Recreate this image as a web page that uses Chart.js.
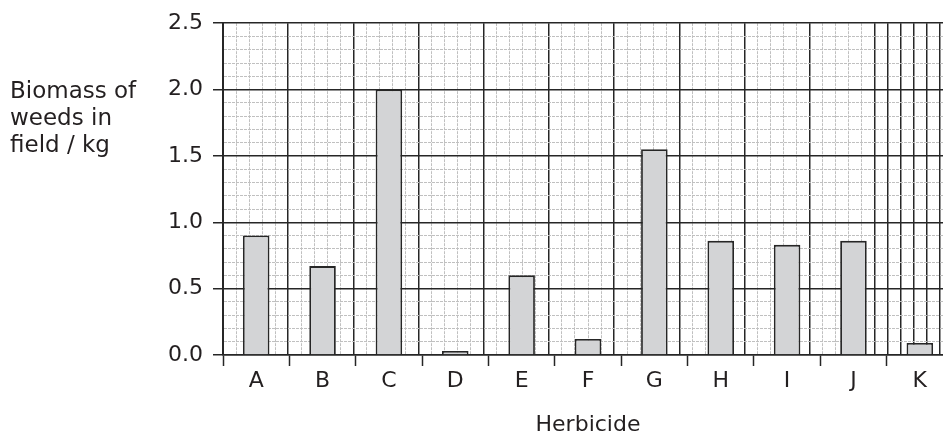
<!DOCTYPE html>
<html>
<head>
<meta charset="utf-8">
<script src="https://cdn.jsdelivr.net/npm/chart.js@4"></script>
<style>
  html, body { margin: 0; padding: 0; background: #fff; overflow: hidden; width: 943px; height: 440px; }
  #wrap { position: relative; width: 960px; height: 440px; }
</style>
</head>
<body>
<div id="wrap"><canvas id="c" width="960" height="440"></canvas></div>
<script>
// ---- data ----
const categories = ['A', 'B', 'C', 'D', 'E', 'F', 'G', 'H', 'I', 'J', 'K'];
const biomass = [0.9, 0.67, 2.0, 0.03, 0.6, 0.12, 1.55, 0.86, 0.83, 0.86, 0.09];
const yMin = 0;
const yMax = 2.5;
const yMajorStep = 0.5;
const yMinorStep = 0.1;
const minorPerCategory = 5;
const yTitleLines = ['Biomass of', 'weeds in', 'field / kg'];
const xTitle = 'Herbicide';

// ---- styles ----
const DARK = '#262626';
const MINOR = '#c0c0c0';
const TEXT = '#231f20';
const FONT = '"DejaVu Sans", sans-serif';

const isMajorY = v => Math.abs(Math.round(v / yMinorStep) % Math.round(yMajorStep / yMinorStep)) === 0;
const nMinorX = categories.length * minorPerCategory;
const isDarkX = v => (Math.round(v) % minorPerCategory === 0) || v >= nMinorX - minorPerCategory;
const tv = c => (c && c.tick) ? c.tick.value : null;
const majY = c => { const v = tv(c); return v === null ? true : isMajorY(v); };
const darkX = c => { const v = tv(c); return v === null ? true : isDarkX(v); };

const yTitlePlugin = {
  id: 'yTitle',
  afterDraw(chart) {
    const ctx = chart.ctx;
    ctx.save();
    ctx.font = '23px ' + FONT;
    ctx.fillStyle = TEXT;
    ctx.textAlign = 'left';
    ctx.textBaseline = 'alphabetic';
    yTitleLines.forEach((t, i) => ctx.fillText(t, 10, 98 + i * 27));
    ctx.restore();
  }
};

new Chart(document.getElementById('c'), {
  type: 'bar',
  data: {
    labels: categories,
    datasets: [{
      data: biomass,
      backgroundColor: '#d3d4d6',
      borderColor: DARK,
      borderWidth: 1.8,
      borderSkipped: 'bottom',
      barPercentage: 0.4,
      categoryPercentage: 1.0,
      xAxisID: 'x',
      yAxisID: 'y'
    }]
  },
  options: {
    responsive: false,
    animation: false,
    devicePixelRatio: 1,
    layout: { padding: { top: 23, right: 7, bottom: 0, left: 0 } },
    plugins: { legend: { display: false }, tooltip: { enabled: false }, title: { display: false } },
    scales: {
      x: {
        type: 'category',
        position: 'bottom',
        offset: true,
        grid: {
          display: true,
          drawOnChartArea: false,
          drawTicks: true,
          offset: true,
          tickLength: 11,
          tickColor: DARK,
          tickWidth: 1.5
        },
        border: { display: true, color: DARK, width: 1.5 },
        ticks: { color: TEXT, font: { family: FONT, size: 22 }, padding: 2, maxRotation: 0, autoSkip: false },
        title: { display: true, text: xTitle, color: TEXT, font: { family: FONT, size: 22 }, padding: { top: 0, bottom: 2 } },
        afterFit(s) { s.height = 85; }
      },
      x2: {
        type: 'linear',
        position: 'bottom',
        min: 0,
        max: nMinorX,
        grid: {
          display: true,
          drawOnChartArea: true,
          drawTicks: false,
          color: c => darkX(c) ? DARK : MINOR,
          lineWidth: c => darkX(c) ? 1.5 : 1
        },
        border: {
          display: false,
          dash: c => darkX(c) ? [] : [3, 1]
        },
        ticks: { display: false, stepSize: 1, maxTicksLimit: 1000, autoSkip: false },
        afterFit(s) { s.height = 0; }
      },
      y: {
        type: 'linear',
        position: 'left',
        min: yMin,
        max: yMax,
        grid: {
          display: true,
          drawOnChartArea: true,
          drawTicks: true,
          tickLength: 10,
          color: c => majY(c) ? DARK : MINOR,
          lineWidth: c => majY(c) ? 1.5 : 1,
          tickColor: c => majY(c) ? DARK : 'rgba(0,0,0,0)',
          tickWidth: 1.5
        },
        border: {
          display: true,
          color: DARK,
          width: 2,
          dash: c => majY(c) ? [] : [3, 1]
        },
        ticks: {
          stepSize: yMinorStep,
          maxTicksLimit: 1000,
          autoSkip: false,
          padding: 10,
          color: TEXT,
          font: { family: FONT, size: 22 },
          callback: v => isMajorY(v) ? Number(v).toFixed(1) : ''
        },
        afterFit(s) { s.width = 223; }
      }
    }
  },
  plugins: [yTitlePlugin]
});
</script>
</body>
</html>
